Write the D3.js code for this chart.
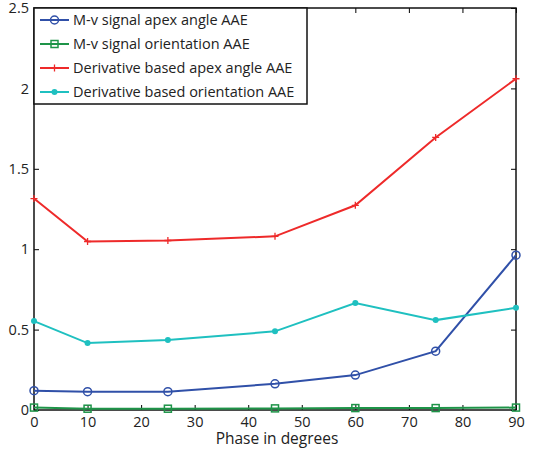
<!DOCTYPE html>
<html>
<head>
<meta charset="utf-8">
<script src="https://cdn.jsdelivr.net/npm/d3@7/dist/d3.min.js"></script>
<style>
  body { margin: 0; background: #fff; }
  text { font-family: "Open Sans", "Noto Sans", sans-serif; fill: #222; }
</style>
</head>
<body>
<svg id="chart" width="533" height="450"></svg>
<script>
  'use strict';

  // phase values (degrees)
  var phases = [0, 10, 25, 45, 60, 75, 90];
  var mvApex = [0.12, 0.114, 0.114, 0.163, 0.217, 0.366, 0.963];
  var mvOrient = [0.015, 0.008, 0.008, 0.01, 0.012, 0.012, 0.015];
  var derivApex = [1.315, 1.048, 1.054, 1.08, 1.273, 1.695, 2.06];
  var derivOrient = [0.553, 0.416, 0.435, 0.489, 0.665, 0.559, 0.636];
  var xTicks = [0, 10, 20, 30, 40, 50, 60, 70, 80, 90];
  var yTicks = [0, 0.5, 1, 1.5, 2, 2.5];
  var seriesNames = [
    'M-v signal apex angle AAE',
    'M-v signal orientation AAE',
    'Derivative based apex angle AAE',
    'Derivative based orientation AAE'
  ];

  (function () {
    var series = [
      {name: seriesNames[0], values: mvApex, color: '#3050a8', marker: 'circle'},
      {name: seriesNames[1], values: mvOrient, color: '#1e9448', marker: 'square'},
      {name: seriesNames[2], values: derivApex, color: '#ee2a2a', marker: 'plus'},
      {name: seriesNames[3], values: derivOrient, color: '#1fc0c0', marker: 'dot'}
    ];

    var pLeft = 34, pRight = 516, pTop = 8, pBottom = 410;
    var svg = d3.select('#chart');

    var x = d3.scaleLinear().domain([0, 90]).range([pLeft, pRight]);
    var y = d3.scaleLinear().domain([0, 2.5]).range([pBottom, pTop]);

    // axes with inward ticks on all four sides
    svg.append('g')
      .attr('transform', 'translate(0,' + pBottom + ')')
      .call(d3.axisBottom(x).tickValues(xTicks).tickSize(-5).tickPadding(7).tickFormat(d3.format('d')))
      .call(function (g) {
        g.select('.domain').remove();
        g.selectAll('text').style('font-size', '14.5px');
      });
    svg.append('g')
      .attr('transform', 'translate(' + pLeft + ',0)')
      .call(d3.axisLeft(y).tickValues(yTicks).tickSize(-5).tickPadding(5).tickFormat(d3.format('')))
      .call(function (g) {
        g.select('.domain').remove();
        g.selectAll('text').style('font-size', '14.5px');
      });
    svg.append('g')
      .attr('transform', 'translate(0,' + pTop + ')')
      .call(d3.axisTop(x).tickValues(xTicks).tickSize(-5).tickFormat(''))
      .call(function (g) { g.select('.domain').remove(); });
    svg.append('g')
      .attr('transform', 'translate(' + pRight + ',0)')
      .call(d3.axisRight(y).tickValues(yTicks).tickSize(-5).tickFormat(''))
      .call(function (g) { g.select('.domain').remove(); });

    svg.append('rect')
      .attr('x', pLeft).attr('y', pTop)
      .attr('width', pRight - pLeft).attr('height', pBottom - pTop)
      .attr('fill', 'none').attr('stroke', '#111').attr('stroke-width', 1.5);

    svg.append('text')
      .attr('x', 277).attr('y', 444)
      .attr('text-anchor', 'middle')
      .style('font-size', '15.5px')
      .text('Phase in degrees');

    function drawMarker(g, s, cx, cy) {
      if (s.marker === 'circle') {
        g.append('circle').attr('cx', cx).attr('cy', cy).attr('r', 4)
          .attr('fill', 'none').attr('stroke', s.color).attr('stroke-width', 1.5);
      } else if (s.marker === 'square') {
        g.append('rect').attr('x', cx - 3.5).attr('y', cy - 3.5).attr('width', 7).attr('height', 7)
          .attr('fill', 'none').attr('stroke', s.color).attr('stroke-width', 1.5);
      } else if (s.marker === 'plus') {
        g.append('path').attr('d', 'M' + (cx - 3.5) + ',' + cy + 'h7M' + cx + ',' + (cy - 3.5) + 'v7')
          .attr('stroke', s.color).attr('stroke-width', 1.3);
      } else {
        g.append('circle').attr('cx', cx).attr('cy', cy).attr('r', 3).attr('fill', s.color);
      }
    }

    var line = d3.line()
      .x(function (d) { return x(d[0]); })
      .y(function (d) { return y(d[1]); });

    series.forEach(function (s) {
      var pts = phases.map(function (p, i) { return [p, s.values[i]]; });
      var g = svg.append('g');
      g.append('path').datum(pts).attr('d', line)
        .attr('fill', 'none').attr('stroke', s.color).attr('stroke-width', 2);
      pts.forEach(function (d) { drawMarker(g, s, x(d[0]), y(d[1])); });
    });

    // legend
    var lg = svg.append('g');
    lg.append('rect')
      .attr('x', pLeft).attr('y', pTop).attr('width', 273).attr('height', 96)
      .attr('fill', '#fff').attr('stroke', '#111').attr('stroke-width', 1.5);
    series.forEach(function (s, i) {
      var ly = 20 + i * 24;
      lg.append('line').attr('x1', 40).attr('x2', 69).attr('y1', ly).attr('y2', ly)
        .attr('stroke', s.color).attr('stroke-width', 2);
      drawMarker(lg, s, 54.5, ly);
      lg.append('text').attr('x', 73).attr('y', ly + 5)
        .style('font-size', '14.5px').text(s.name);
    });
  })();
</script>
</body>
</html>
